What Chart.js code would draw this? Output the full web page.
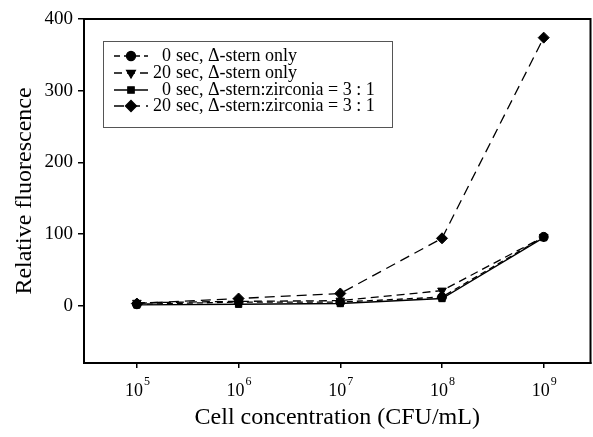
<!DOCTYPE html>
<html>
<head>
<meta charset="utf-8">
<script src="https://cdn.jsdelivr.net/npm/chart.js@4.4.1/dist/chart.umd.min.js"></script>
<style>
  html, body { margin: 0; background: #fff; overflow: hidden; }
  #wrap { width: 597px; height: 437px; position: relative; }
</style>
</head>
<body>
<div id="wrap"><canvas id="fluor-chart"></canvas></div>
<script>
// cell concentration, as powers of ten
var exponents = [5, 6, 7, 8, 9];
var yTicks = [0, 100, 200, 300, 400];

var seriesLabels = [
    '0 sec, \u0394-stern only',
    '20 sec, \u0394-stern only',
    '0 sec, \u0394-stern:zirconia = 3 : 1',
    '20 sec, \u0394-stern:zirconia = 3 : 1'
];
var stern0 = [2, 5, 5, 12, 96];
var stern20 = [4, 6, 7, 21, 96];
var zirc0 = [1, 2, 3, 10, 95];
var zirc20 = [3, 10, 17, 94, 374];

var serif = '"Liberation Serif", "Times New Roman", serif';

var toPoints = function (values) {
    var pts = [];
    for (var i = 0; i < exponents.length; ++i) {
        pts.push({ x: exponents[i], y: values[i] });
    }
    return pts;
};

var makeSet = function (label, values, style, rotation, radius, dash) {
    return {
        label: label,
        data: toPoints(values),
        borderColor: '#000',
        backgroundColor: '#000',
        borderWidth: 1.3,
        borderDash: dash,
        pointStyle: style,
        rotation: rotation,
        pointRadius: radius,
        pointBorderWidth: 1,
        tension: 0
    };
};

// frame round the plot, superscript tick labels and the legend box
var framePlugin = {
    id: 'frame',
    afterDraw: function (chart) {
        var ctx = chart.ctx;
        var a = chart.chartArea;
        ctx.save();
        ctx.strokeStyle = '#000';
        ctx.lineWidth = 2;
        ctx.strokeRect(a.left, a.top, a.right - a.left, a.bottom - a.top);

        // x tick labels 10^n
        var xs = chart.scales.x;
        ctx.fillStyle = '#000';
        ctx.textBaseline = 'alphabetic';
        ctx.textAlign = 'left';
        for (var i = 0; i < exponents.length; ++i) {
            var px = xs.getPixelForValue(exponents[i]);
            ctx.font = '18px ' + serif;
            var wBase = ctx.measureText('10').width;
            ctx.font = '12px ' + serif;
            var wExp = ctx.measureText(String(exponents[i])).width;
            var x0 = px - (wBase + wExp) / 2;
            ctx.font = '18px ' + serif;
            ctx.fillText('10', x0, a.bottom + 33);
            ctx.font = '12px ' + serif;
            ctx.fillText(String(exponents[i]), x0 + wBase + 1, a.bottom + 22);
        }

        // legend
        var box = { left: 103, top: 41, right: 392, bottom: 127 };
        ctx.lineWidth = 1;
        ctx.strokeStyle = '#555';
        ctx.strokeRect(box.left + 0.5, box.top + 0.5, box.right - box.left, box.bottom - box.top);
        var rows = [56, 73, 90, 106];
        ctx.font = '18px ' + serif;
        ctx.textBaseline = 'middle';
        chart.data.datasets.forEach(function (ds, k) {
            var y = rows[k];
            ctx.strokeStyle = '#000';
            ctx.fillStyle = '#000';
            ctx.lineWidth = 1.3;
            ctx.setLineDash(ds.borderDash || []);
            ctx.beginPath();
            ctx.moveTo(114, y);
            ctx.lineTo(148, y);
            ctx.stroke();
            ctx.setLineDash([]);
            Chart.helpers.drawPoint(ctx, {
                pointStyle: ds.pointStyle,
                rotation: ds.rotation || 0,
                radius: ds.pointRadius,
                borderWidth: 1
            }, 131, y);
            var parts = ds.label.split(' ');
            var num = parts.shift();
            ctx.fillStyle = '#000';
            ctx.textAlign = 'right';
            ctx.fillText(num, 171, y);
            ctx.textAlign = 'left';
            ctx.fillText(parts.join(' '), 176, y);
        });
        ctx.restore();
    }
};

var ctx = document.getElementById('fluor-chart');
var fluorChart = new Chart(ctx, {
    type: 'line',
    data: {
        datasets: [
            makeSet(seriesLabels[0], stern0, 'circle', 0, 4.5, [6, 4]),
            makeSet(seriesLabels[1], stern20, 'triangle', 180, 5, [8, 5]),
            makeSet(seriesLabels[2], zirc0, 'rect', 0, 4.5, []),
            makeSet(seriesLabels[3], zirc20, 'rectRot', 0, 5.5, [10, 6])
        ]
    },
    options: {
        responsive: true,
        maintainAspectRatio: false,
        animation: false,
        layout: { padding: { top: 19, right: 0, left: 0, bottom: 0 } },
        plugins: {
            legend: { display: false },
            tooltip: { enabled: false }
        },
        scales: {
            x: {
                type: 'linear',
                min: 4.48,
                max: 9.46,
                afterBuildTicks: function (scale) {
                    scale.ticks = exponents.map(function (v) { return { value: v }; });
                },
                afterFit: function (scale) {
                    scale.height = 74;
                    scale.paddingLeft = 0;
                    scale.paddingRight = 0;
                },
                grid: { display: true, drawOnChartArea: false, drawTicks: true, tickLength: 5, color: '#000', lineWidth: 1.5 },
                border: { display: true, color: '#000', width: 2 },
                ticks: { display: false },
                title: {
                    display: true,
                    text: 'Cell concentration (CFU/mL)',
                    color: '#000',
                    font: { family: serif, size: 24 },
                    padding: { top: 0, bottom: 5 }
                }
            },
            y: {
                min: -80,
                max: 400,
                afterBuildTicks: function (scale) {
                    scale.ticks = yTicks.map(function (v) { return { value: v }; });
                },
                afterFit: function (scale) { scale.width = 84; },
                grid: { display: true, drawOnChartArea: false, drawTicks: true, tickLength: 6, color: '#000', lineWidth: 1.5 },
                border: { display: true, color: '#000', width: 2 },
                ticks: {
                    color: '#000',
                    padding: 5,
                    font: { family: serif, size: 19 }
                },
                title: {
                    display: true,
                    text: 'Relative fluorescence',
                    color: '#000',
                    font: { family: serif, size: 24 },
                    padding: { top: 10, bottom: 0 }
                }
            }
        }
    },
    plugins: [framePlugin]
});
</script>
</body>
</html>
